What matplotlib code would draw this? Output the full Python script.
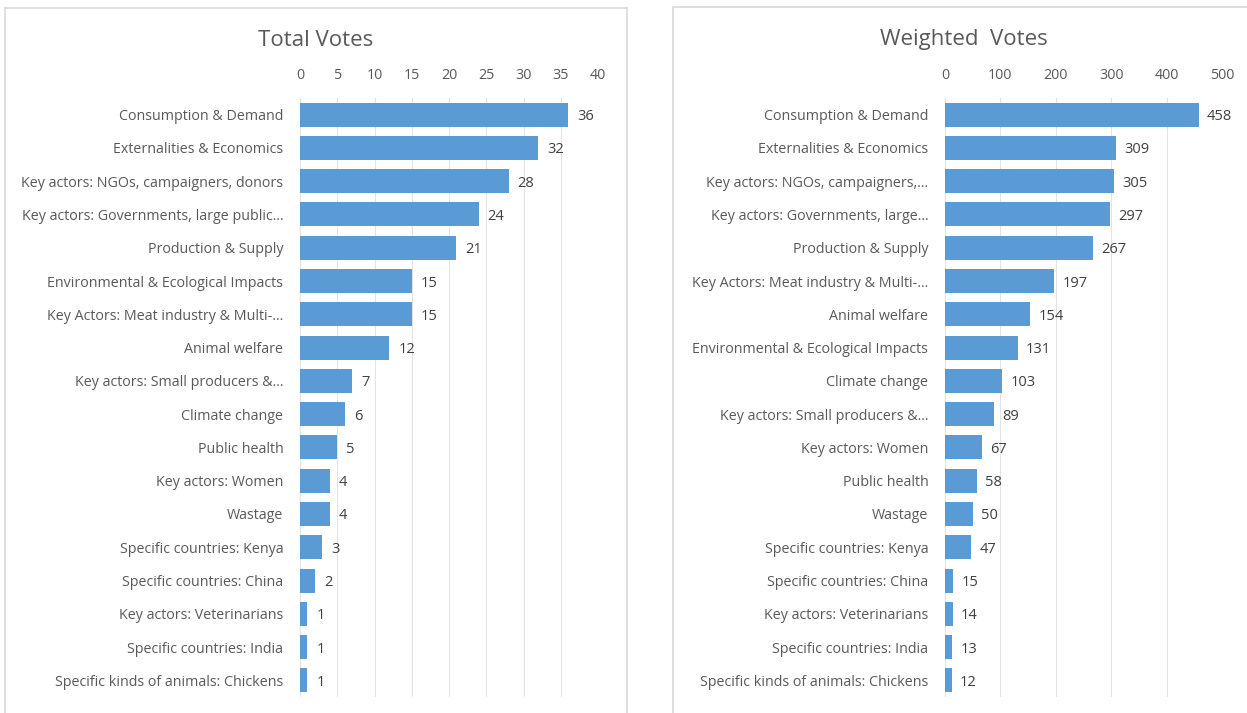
import matplotlib.pyplot as plt
from matplotlib.patches import Rectangle

plt.rcParams['font.family'] = ['Open Sans', 'DejaVu Sans']

# data: Total Votes
total_labels = [
    'Consumption & Demand', 'Externalities & Economics',
    'Key actors: NGOs, campaigners, donors', 'Key actors: Governments, large public...',
    'Production & Supply', 'Environmental & Ecological Impacts',
    'Key Actors: Meat industry & Multi-...', 'Animal welfare',
    'Key actors: Small producers &...', 'Climate change', 'Public health',
    'Key actors: Women', 'Wastage', 'Specific countries: Kenya',
    'Specific countries: China', 'Key actors: Veterinarians',
    'Specific countries: India', 'Specific kinds of animals: Chickens',
]
total_votes = [36, 32, 28, 24, 21, 15, 15, 12, 7, 6, 5, 4, 4, 3, 2, 1, 1, 1]

# data: Weighted Votes
weighted_labels = [
    'Consumption & Demand', 'Externalities & Economics',
    'Key actors: NGOs, campaigners,...', 'Key actors: Governments, large...',
    'Production & Supply', 'Key Actors: Meat industry & Multi-...',
    'Animal welfare', 'Environmental & Ecological Impacts', 'Climate change',
    'Key actors: Small producers &...', 'Key actors: Women', 'Public health',
    'Wastage', 'Specific countries: Kenya', 'Specific countries: China',
    'Key actors: Veterinarians', 'Specific countries: India',
    'Specific kinds of animals: Chickens',
]
weighted_votes = [458, 309, 305, 297, 267, 197, 154, 131, 103, 89, 67, 58, 50, 47, 15, 14, 13, 12]

bar_col = '#5B9BD5'
txt_col = '#595959'
grid_col = '#E3E3E3'

W, H = 1247, 713
fig = plt.figure(figsize=(W / 100, H / 100), dpi=100)

# panel frames
fig.patches.append(Rectangle((5 / W, -0.05), 622 / W, 1 - 8 / H + 0.05, transform=fig.transFigure,
                             fill=False, edgecolor='#D9D9D9', linewidth=1.2))
fig.patches.append(Rectangle((673 / W, -0.05), 600 / W, 1 - 7 / H + 0.05, transform=fig.transFigure,
                             fill=False, edgecolor='#D9D9D9', linewidth=1.2))


def draw(ax, labels, values, xmax, step, pad):
    y = list(range(len(values)))
    ax.barh(y, values, height=0.72, color=bar_col, zorder=2)
    ax.set_ylim(len(values) - 0.5, -0.5)
    ax.set_xlim(0, xmax)
    ax.set_xticks(range(0, xmax + 1, step))
    ax.set_yticks(y)
    ax.set_yticklabels(labels)
    ax.xaxis.tick_top()
    ax.tick_params(axis='both', length=0, labelsize=10.3, colors=txt_col)
    ax.tick_params(axis='x', pad=11)
    ax.tick_params(axis='y', pad=12)
    ax.grid(axis='x', color=grid_col, linewidth=0.8, zorder=0)
    for s in ax.spines.values():
        s.set_visible(False)
    for i, v in enumerate(values):
        ax.text(v + pad, i + 0.06, str(v), va='center', ha='left', fontsize=10.5, color='#404040')


ax1 = fig.add_axes([300 / W, 16 / H, 298 / W, 599 / H])
draw(ax1, total_labels, total_votes, 40, 5, 1.2)
fig.text(316 / W, 1 - 41 / H, 'Total Votes', ha='center', va='center', fontsize=16, color=txt_col)

ax2 = fig.add_axes([945 / W, 16 / H, 277 / W, 599 / H])
draw(ax2, weighted_labels, weighted_votes, 500, 100, 15)
fig.text(964 / W, 1 - 40 / H, 'Weighted  Votes', ha='center', va='center', fontsize=16, color=txt_col)

fig.savefig('out.png', dpi=100)
